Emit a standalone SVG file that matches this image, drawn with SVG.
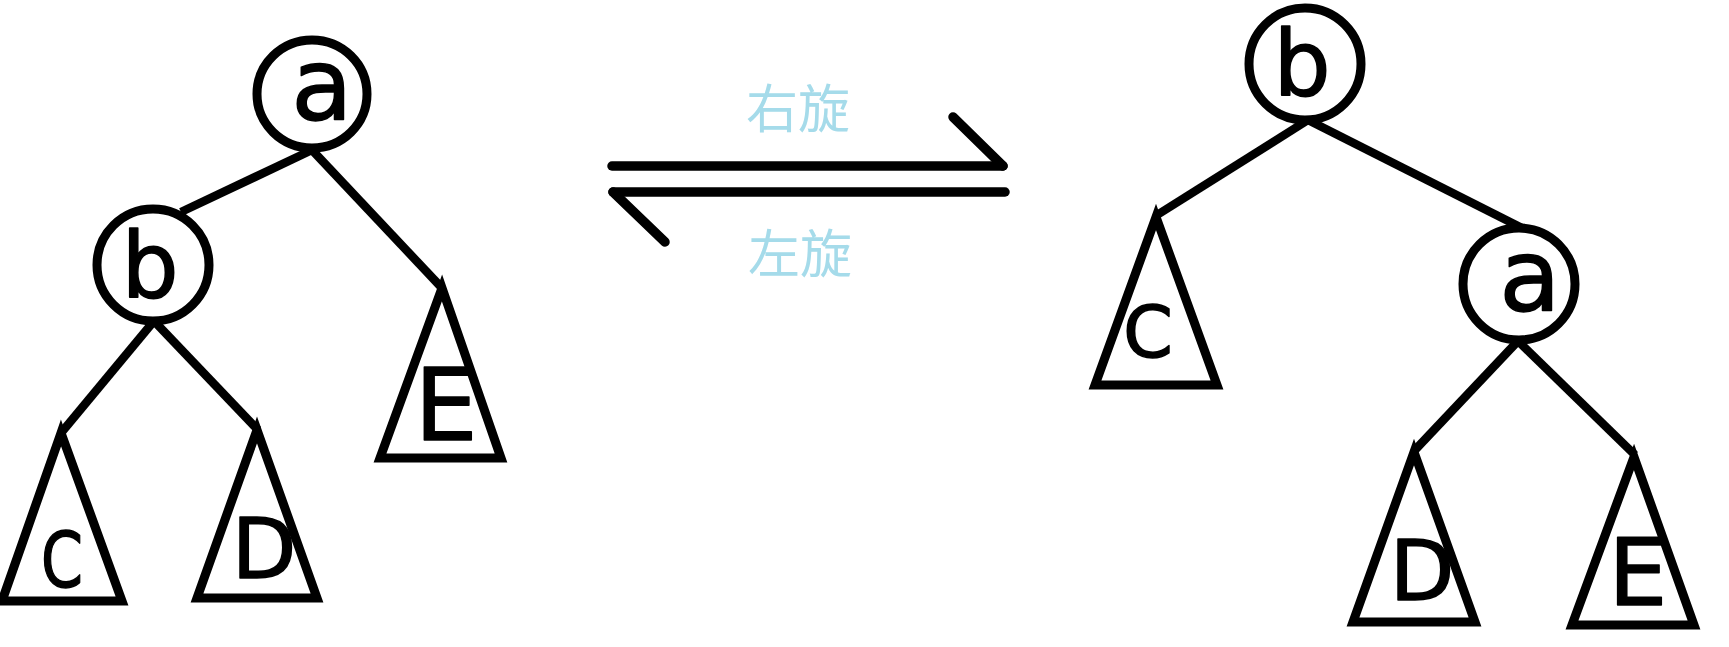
<svg xmlns="http://www.w3.org/2000/svg" width="1729" height="647" viewBox="0 0 1729 647">
<style>
.ring{fill:#fff;stroke:#000;stroke-width:9}
.tri{fill:none;stroke:#000;stroke-width:9;stroke-linejoin:miter}
.edge{stroke:#000;stroke-width:8.5;fill:none}
.arr{stroke:#000;stroke-width:9.5;stroke-linecap:round;fill:none}
.lbl{font-family:"DejaVu Sans",sans-serif;fill:#000;stroke:#000;stroke-width:1.5;stroke-linejoin:round;text-anchor:middle}
.cn{font-family:"Noto Sans CJK SC",sans-serif;fill:#a5dbea;font-size:52px;text-anchor:middle}
</style>
<rect width="1729" height="647" fill="#fff"/>
<g id="connectors">
<line class="edge" x1="312" y1="150" x2="181" y2="212"/>
<line class="edge" x1="312" y1="150" x2="442" y2="288"/>
<line class="edge" x1="154" y1="321" x2="61" y2="433"/>
<line class="edge" x1="154" y1="321" x2="258" y2="430"/>
<line class="edge" x1="1308" y1="120" x2="1157" y2="215"/>
<line class="edge" x1="1308" y1="120" x2="1522" y2="228"/>
<line class="edge" x1="1518" y1="341" x2="1415" y2="450"/>
<line class="edge" x1="1518" y1="341" x2="1635" y2="455"/>
</g>
<g id="left-a"><ellipse class="ring" cx="312" cy="94" rx="55" ry="54"/><text class="lbl" x="322" y="120" font-size="100">a</text></g>
<g id="left-b"><circle class="ring" cx="153" cy="265" r="56"/><text class="lbl" x="150" y="297" font-size="90">b</text></g>
<g id="left-C"><polygon class="tri" points="61,433 2,601 122,601"/><text class="lbl" x="62" y="587" font-size="77" textLength="42" lengthAdjust="spacingAndGlyphs">C</text></g>
<g id="left-D"><polygon class="tri" points="257,430 197,598 317,598"/><text class="lbl" x="264" y="578" font-size="84">D</text></g>
<g id="left-E"><polygon class="tri" points="442,288 380,458 501,458"/><text class="lbl" x="446" y="440" font-size="100">E</text></g>
<g id="rotate-right"><line class="arr" x1="612" y1="166" x2="1003" y2="166"/><line class="arr" x1="953" y1="117" x2="1003" y2="166"/><text class="cn" x="798" y="128">右旋</text></g>
<g id="rotate-left"><line class="arr" x1="613" y1="192" x2="1005" y2="192"/><line class="arr" x1="613" y1="192" x2="665" y2="242"/><text class="cn" x="800" y="273">左旋</text></g>
<g id="right-b"><circle class="ring" cx="1305" cy="64" r="56"/><text class="lbl" x="1302" y="95" font-size="90">b</text></g>
<g id="right-a"><circle class="ring" cx="1519" cy="284" r="56"/><text class="lbl" x="1530" y="311" font-size="100">a</text></g>
<g id="right-C"><polygon class="tri" points="1156,217 1095,385 1217,385"/><text class="lbl" x="1148" y="357" font-size="71">C</text></g>
<g id="right-D"><polygon class="tri" points="1414,452 1353,622 1475,622"/><text class="lbl" x="1422" y="600" font-size="84">D</text></g>
<g id="right-E"><polygon class="tri" points="1634,457 1572,625 1694,625"/><text class="lbl" x="1638" y="605" font-size="93">E</text></g>
</svg>
